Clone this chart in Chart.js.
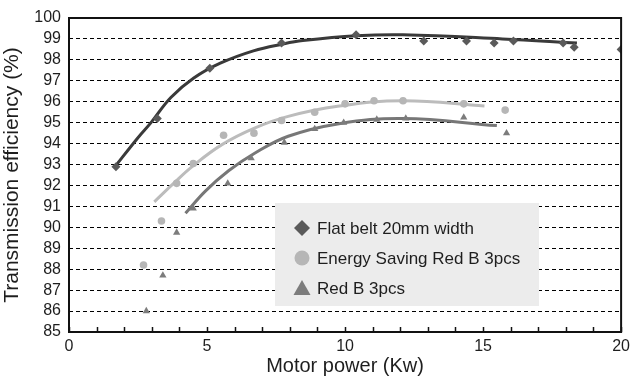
<!DOCTYPE html>
<html>
<head>
<meta charset="utf-8">
<script src="https://cdn.jsdelivr.net/npm/chart.js@4/dist/chart.umd.min.js"></script>
<style>
  html, body { margin: 0; padding: 0; background: #fff; }
  #wrap { width: 635px; height: 378px; }
</style>
</head>
<body>
<div id="wrap"><canvas id="eff" width="635" height="378"></canvas></div>
<script>
// measured points
var flatX = [1.7, 3.2, 5.1, 7.7, 10.4, 12.85, 14.4, 15.4, 16.1, 17.9, 18.3, 20.0];
var flatY = [92.9, 95.2, 97.6, 98.8, 99.2, 98.9, 98.9, 98.8, 98.9, 98.8, 98.6, 98.5];
var esX = [2.7, 3.35, 3.9, 4.5, 5.6, 6.7, 7.7, 8.9, 10.0, 11.05, 12.1, 14.3, 15.8];
var esY = [88.2, 90.3, 92.1, 93.05, 94.4, 94.5, 95.1, 95.5, 95.9, 96.05, 96.05, 95.9, 95.6];
var redX = [2.8, 3.4, 3.9, 4.5, 5.75, 6.6, 7.8, 8.9, 9.95, 11.15, 12.2, 14.3, 15.85];
var redY = [86.0, 87.7, 89.75, 90.9, 92.1, 93.3, 94.05, 94.7, 95.0, 95.15, 95.2, 95.25, 94.5];

// trend curves
var flatTrendX = [1.65, 2.49, 2.97, 3.69, 4.52, 5.48, 6.68, 7.76, 8.47, 10.4, 12.1, 15.7, 18.4];
var flatTrendY = [92.87, 94.27, 95.0, 96.2, 97.13, 97.84, 98.43, 98.76, 98.92, 99.15, 99.2, 99.0, 98.8];
var esTrendX = [3.09, 3.75, 4.46, 5.54, 6.74, 7.94, 9.73, 12.1, 15.05];
var esTrendY = [91.22, 92.05, 92.9, 93.95, 94.75, 95.3, 95.78, 96.05, 95.8];
var redTrendX = [4.22, 4.94, 5.78, 6.74, 7.94, 9.73, 12.1, 15.5];
var redTrendY = [90.67, 91.73, 92.7, 93.55, 94.35, 94.94, 95.2, 94.86];

var seriesNames = ['Flat belt 20mm width', 'Energy Saving Red B 3pcs', 'Red B 3pcs'];

function pts(xs, ys) {
    return xs.map(function (x, i) { return { x: x, y: ys[i] }; });
}

var FONT = '"Liberation Sans", Arial, Helvetica, sans-serif';
var TXT = '#1e1e1e';

// box around the plot + inward x ticks
var frame = {
    id: 'frame',
    afterDraw: function (chart) {
        var ctx = chart.ctx, a = chart.chartArea, xs = chart.scales.x;
        ctx.save();
        ctx.strokeStyle = '#111';
        ctx.lineWidth = 2;
        ctx.strokeRect(a.left, a.top, a.right - a.left, a.bottom - a.top);
        ctx.lineWidth = 1.5;
        xs.ticks.forEach(function (t) {
            var px = Math.round(xs.getPixelForValue(t.value)) + 0.5;
            ctx.beginPath();
            ctx.moveTo(px, a.bottom);
            ctx.lineTo(px, a.bottom - 5);
            ctx.stroke();
        });
        ctx.restore();
    }
};

// grey legend box sitting inside the plot
var boxLegend = {
    id: 'boxLegend',
    afterDatasetsDraw: function (chart) {
        var ctx = chart.ctx, a = chart.chartArea;
        var bx = a.left + 206, by = a.top + 185, bw = 264, bh = 103;
        ctx.save();
        ctx.fillStyle = '#ececec';
        ctx.fillRect(bx, by, bw, bh);
        var cols = ['#5a5a5a', '#b6b6b6', '#7c7c7c'];
        ctx.font = '17px ' + FONT;
        ctx.textBaseline = 'middle';
        for (var i = 0; i < 3; i++) {
            var cy = by + 25 + i * 30, cx = bx + 27;
            ctx.fillStyle = cols[i];
            ctx.beginPath();
            if (i === 0) {
                ctx.moveTo(cx, cy - 8); ctx.lineTo(cx + 8, cy); ctx.lineTo(cx, cy + 8); ctx.lineTo(cx - 8, cy);
            } else if (i === 1) {
                ctx.arc(cx, cy, 7.5, 0, Math.PI * 2);
            } else {
                ctx.moveTo(cx, cy - 8); ctx.lineTo(cx + 8.5, cy + 7); ctx.lineTo(cx - 8.5, cy + 7);
            }
            ctx.closePath();
            ctx.fill();
            ctx.fillStyle = TXT;
            ctx.fillText(chart.data.datasets[i].label, bx + 42, cy + 1);
        }
        ctx.restore();
    }
};

var chart = new Chart(document.getElementById('eff'), {
    type: 'scatter',
    data: {
        datasets: [{
            label: seriesNames[0],
            data: pts(flatX, flatY),
            pointStyle: 'rectRot', pointRadius: 4.5,
            backgroundColor: '#5a5a5a', borderWidth: 0
        }, {
            label: seriesNames[1],
            data: pts(esX, esY),
            pointStyle: 'circle', pointRadius: 3.8,
            backgroundColor: '#b6b6b6', borderWidth: 0
        }, {
            label: seriesNames[2],
            data: pts(redX, redY),
            pointStyle: 'triangle', pointRadius: 4.2,
            backgroundColor: '#7c7c7c', borderWidth: 0
        }, {
            label: 'trend1', data: pts(flatTrendX, flatTrendY), showLine: true,
            pointRadius: 0, borderColor: '#3a3a3a', borderWidth: 3, tension: 0.4
        }, {
            label: 'trend2', data: pts(esTrendX, esTrendY), showLine: true,
            pointRadius: 0, borderColor: '#bcbcbc', borderWidth: 3, tension: 0.4
        }, {
            label: 'trend3', data: pts(redTrendX, redTrendY), showLine: true,
            pointRadius: 0, borderColor: '#777777', borderWidth: 3, tension: 0.4
        }]
    },
    options: {
        responsive: false,
        animation: false,
        layout: { padding: { top: 18, right: 9, left: 0, bottom: 0 } },
        plugins: {
            legend: { display: false },
            tooltip: { enabled: false }
        },
        scales: {
            x: {
                type: 'linear', min: 0, max: 20,
                afterFit: function (s) { s.height = 46; },
                border: { display: false },
                grid: { display: false, drawTicks: false },
                ticks: {
                    stepSize: 1, padding: 5, color: TXT, maxRotation: 0, autoSkip: false,
                    font: { family: FONT, size: 16 },
                    callback: function (v) { return v % 5 === 0 ? v : ''; }
                },
                title: {
                    display: true, text: 'Motor power (Kw)', color: TXT,
                    font: { family: FONT, size: 20 }, padding: { top: 0, bottom: 0 }
                }
            },
            y: {
                min: 85, max: 100,
                afterFit: function (s) { s.width = 69; },
                border: { display: false, dash: [4, 3] },
                grid: {
                    drawTicks: false, lineWidth: 1,
                    color: function (c) {
                        var v = c.tick.value;
                        return (v === 85 || v === 100) ? 'rgba(0,0,0,0)' : '#000';
                    }
                },
                ticks: {
                    stepSize: 1, padding: 8, color: TXT, autoSkip: false,
                    font: { family: FONT, size: 16 }
                },
                title: {
                    display: true, text: 'Transmission efficiency (%)', color: TXT,
                    font: { family: FONT, size: 21 }, padding: { top: 0, bottom: 0 }
                }
            }
        }
    },
    plugins: [boxLegend, frame]
});
</script>
</body>
</html>
